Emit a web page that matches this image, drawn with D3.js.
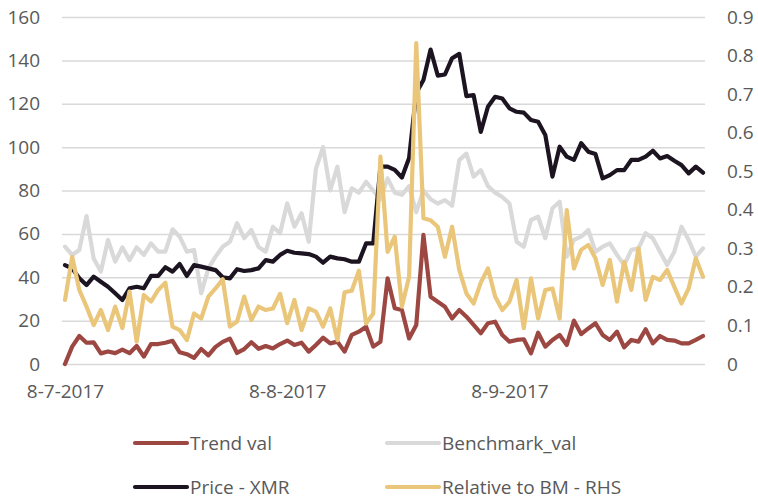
<!DOCTYPE html>
<html>
<head>
<meta charset="utf-8">
<script src="https://cdn.jsdelivr.net/npm/d3@7"></script>
<style>
  body { margin: 0; background: #fff; }
  svg { display: block; font-family: "Open Sans", sans-serif; }
</style>
</head>
<body>
<div id="chart"></div>
<script>
// daily categories, 8 Jul 2017 .. 5 Oct 2017
var dates = d3.timeDay.range(new Date(2017, 6, 8), new Date(2017, 9, 6));

var trendVal = [0, 8, 12.9, 9.8, 10, 4.9, 5.8, 5, 6.6, 5,
    8.3, 3.4, 9.2, 9.2, 9.8, 10.7, 5.4, 4.5, 2.8, 6.9,
    4, 7.9, 10.2, 11.7, 5.1, 6.9, 10, 7, 8.3, 7.2,
    9.2, 10.8, 8.8, 9.8, 5.7, 8.8, 12.1, 9.5, 10.3, 5.7,
    13.4, 14.9, 17.2, 8, 10.3, 39.5, 25.7, 24.9, 11.8, 18,
    59.5, 31, 28.7, 26.4, 21, 24.9, 21.8, 18, 14.2, 18.8,
    19.5, 13.4, 10.3, 11.1, 11.4, 4.9, 14.4, 8, 11.1, 13.4,
    8.8, 20, 13.8, 16.4, 18.8, 13.4, 11.1, 14.9, 7.7, 11.1,
    10.3, 16, 9.5, 12.9, 11.1, 10.8, 9.5, 9.5, 11.1, 12.9];

var benchmarkVal = [54.1, 50.3, 52.6, 68.2, 48.7, 42.6, 57.2, 47.2, 53.8, 47.9,
    53.8, 50.3, 55.6, 51.8, 51.8, 62.1, 58.7, 51.8, 52.6, 32.6,
    44.1, 49.5, 54.1, 56.4, 64.9, 58, 61.8, 54, 51.8, 63.3,
    60.3, 74.1, 63.3, 69.5, 56.4, 90, 100, 80, 91, 70,
    81, 79, 84, 80, 76, 85.6, 79, 78, 82, 70,
    80, 76, 74, 75.6, 73, 94, 97, 86.4, 89.4, 82,
    79, 77, 74, 56.4, 54.1, 66.4, 67.9, 58, 71.8, 74.8,
    49.5, 57.2, 58.7, 61.8, 51.8, 54.1, 55.6, 50.3, 45.6, 52.6,
    53.3, 60.3, 58, 51.8, 45.6, 51.8, 63.3, 57.2, 49.5, 53.3];

var priceXMR = [45.6, 44.1, 39.5, 36.4, 40.3, 37.9, 35.6, 32.6, 29.5, 34.9,
    35.6, 34.9, 40.6, 40.6, 44.6, 42.6, 46.1, 40.6, 45.6, 44.9,
    44.1, 43.3, 40, 39.5, 43.7, 42.9, 43.3, 44.1, 47.9, 47.2,
    50.3, 52.2, 51.3, 51, 50.7, 49.5, 46.7, 49.5, 48.7, 48.3,
    47.2, 47.2, 55.6, 55.6, 91, 91, 89.5, 86, 95, 125,
    131, 145, 133, 133.5, 141, 143, 123.5, 124, 107, 118.6,
    123.2, 122.4, 117.9, 116.3, 115.9, 112.5, 111.7, 105.6, 86.4, 100.2,
    95.6, 94.1, 101.8, 97.9, 96.8, 85.6, 87.1, 89.4, 89.4, 94.1,
    94.1, 95.6, 98.3, 94.8, 95.9, 93.7, 91.7, 87.9, 91, 88.2];

// right hand scale
var relativeBM = [0.166, 0.278, 0.192, 0.149, 0.101, 0.14, 0.088, 0.149, 0.093, 0.188,
    0.058, 0.179, 0.162, 0.192, 0.211, 0.097, 0.088, 0.062, 0.131, 0.118,
    0.175, 0.196, 0.22, 0.097, 0.11, 0.175, 0.114, 0.149, 0.14, 0.144,
    0.182, 0.106, 0.166, 0.088, 0.144, 0.136, 0.097, 0.144, 0.062, 0.186,
    0.19, 0.242, 0.105, 0.131, 0.538, 0.291, 0.33, 0.149, 0.226, 0.832,
    0.378, 0.373, 0.356, 0.278, 0.356, 0.244, 0.183, 0.157, 0.211, 0.248,
    0.175, 0.14, 0.162, 0.218, 0.093, 0.222, 0.118, 0.192, 0.196, 0.118,
    0.399, 0.248, 0.296, 0.309, 0.274, 0.205, 0.27, 0.162, 0.265, 0.192,
    0.3, 0.166, 0.226, 0.218, 0.244, 0.2, 0.157, 0.196, 0.274, 0.226];

var leftTicks = [0, 20, 40, 60, 80, 100, 120, 140, 160];
var rightTicks = [0, 0.1, 0.2, 0.3, 0.4, 0.5, 0.6, 0.7, 0.8, 0.9];
var xTicks = [new Date(2017, 6, 8), new Date(2017, 7, 8), new Date(2017, 8, 8)];

var seriesNames = ["Trend val", "Benchmark_val", "Price - XMR", "Relative to BM - RHS"];
var seriesColors = ["#9c4741", "#d9d9d9", "#1c1521", "#eac67a"];

var width = 758, height = 502;
var textColor = "#595959";
var fontSize = 19;

var x = d3.scaleTime()
    .domain([dates[0], dates[dates.length - 1]])
    .range([65, 703]);

var y = d3.scaleLinear().domain([0, 160]).range([364, 17]);
var y2 = d3.scaleLinear().domain([0, 0.9]).range([364, 17]);

var svg = d3.select("#chart").append("svg")
    .attr("width", width)
    .attr("height", height);

// gridlines
svg.append("g")
    .attr("class", "grid")
    .attr("transform", "translate(62,0)")
    .call(d3.axisLeft(y).tickValues(leftTicks).tickSize(-643).tickFormat(""))
    .call(function(g) { g.select(".domain").remove(); })
    .selectAll("line")
    .attr("stroke", "#d9d9d9")
    .attr("stroke-width", 1.5);

// left axis labels
var yAxis = svg.append("g")
    .attr("transform", "translate(40,0)")
    .call(d3.axisLeft(y).tickValues(leftTicks).tickSize(0).tickPadding(0));
yAxis.select(".domain").remove();
yAxis.selectAll("text")
    .attr("fill", textColor)
    .style("font-size", fontSize + "px")
    .style("font-family", "'Open Sans', sans-serif");

// right axis labels
var y2Axis = svg.append("g")
    .attr("transform", "translate(727,0)")
    .call(d3.axisRight(y2).tickValues(rightTicks).tickSize(0).tickPadding(0)
          .tickFormat(function(d) { return d === 0 ? "0" : d3.format(".1f")(d); }));
y2Axis.select(".domain").remove();
y2Axis.selectAll("text")
    .attr("fill", textColor)
    .style("font-size", fontSize + "px")
    .style("font-family", "'Open Sans', sans-serif");

// x axis labels
var xAxis = svg.append("g")
    .attr("transform", "translate(0,384)")
    .call(d3.axisBottom(x).tickValues(xTicks).tickSize(0).tickPadding(0)
          .tickFormat(d3.timeFormat("%-d-%-m-%Y")));
xAxis.select(".domain").remove();
xAxis.selectAll("text")
    .attr("fill", textColor)
    .style("font-size", fontSize + "px")
    .style("font-family", "'Open Sans', sans-serif");

// lines
function lineFor(values, scale) {
    return d3.line()
        .x(function(d, i) { return x(dates[i]); })
        .y(function(d) { return scale(d); })(values);
}

var seriesData = [
    {values: trendVal, scale: y},
    {values: benchmarkVal, scale: y},
    {values: priceXMR, scale: y},
    {values: relativeBM, scale: y2}
];

seriesData.forEach(function(s, k) {
    svg.append("path")
        .attr("d", lineFor(s.values, s.scale))
        .attr("fill", "none")
        .attr("stroke", seriesColors[k])
        .attr("stroke-width", 4.2)
        .attr("stroke-linejoin", "round")
        .attr("stroke-linecap", "round");
});

// Legend
var legendPos = [
    {x: 135, y: 443},
    {x: 387, y: 443},
    {x: 135, y: 487},
    {x: 387, y: 487}
];

var legend = svg.append("g").attr("class", "legend");
seriesNames.forEach(function(name, k) {
    var p = legendPos[k];
    legend.append("line")
        .attr("x1", p.x)
        .attr("x2", p.x + 52)
        .attr("y1", p.y)
        .attr("y2", p.y)
        .attr("stroke", seriesColors[k])
        .attr("stroke-width", 4.2)
        .attr("stroke-linecap", "round");
    legend.append("text")
        .attr("x", p.x + 55)
        .attr("y", p.y)
        .attr("dy", "0.35em")
        .attr("fill", textColor)
        .style("font-size", fontSize + "px")
        .text(name);
});
</script>
</body>
</html>
